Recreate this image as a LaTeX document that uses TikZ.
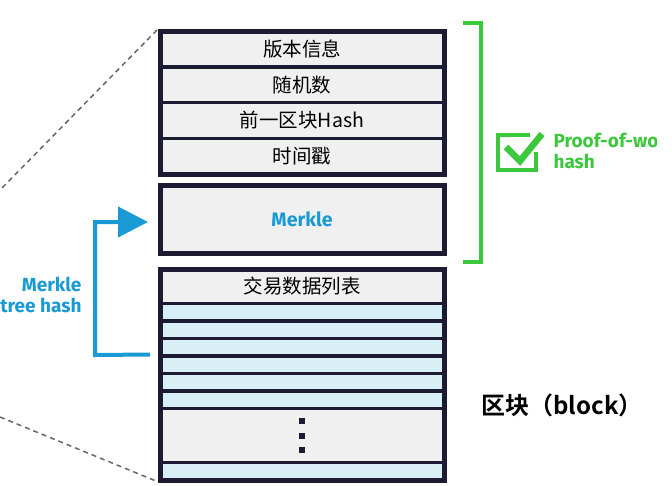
\documentclass[tikz,border=0pt]{standalone}
\usepackage{fontspec}
\setmainfont{Fira Sans}
\newfontfamily\cjk{Noto Sans CJK SC}[BoldFont={Noto Sans CJK SC Bold}]
\usepackage{tikz}
\usetikzlibrary{positioning}
\usetikzlibrary{arrows.meta}

\definecolor{boxline}{HTML}{1C1B33}
\definecolor{fieldgray}{HTML}{F0F0F0}
\definecolor{txblue}{HTML}{D9EFF6}
\definecolor{hashblue}{HTML}{1A9AD4}
\definecolor{powgreen}{HTML}{3CC83C}
\definecolor{zoomgray}{HTML}{666666}

\begin{document}
\begin{tikzpicture}[x=1pt, y=-1pt]
        \tikzset{field/.style={draw=boxline, line width=3.5pt, fill=fieldgray,
            minimum width=284pt, minimum height=35.75pt, inner sep=0pt, outer sep=0pt,
            font=\cjk\fontsize{19.5}{22}\selectfont},
            txrow/.style={field, fill=txblue, minimum height=17.5pt},
            outerbox/.style={draw=boxline, line width=5pt},
            zoomline/.style={draw=zoomgray, line width=1.5pt, dash pattern=on 5pt off 4pt},
            hashline/.style={draw=hashblue, line width=4pt},
            powline/.style={draw=powgreen, line width=4pt}}
        \useasboundingbox (0,0) rectangle (672,485);
        \clip (0,0) rectangle (672,485);

            % block header
            \node[field] (ver) at (302,48.9) {版本信息};
            \node[field, below=0pt of ver] (nonce) {随机数};
            \node[field, below=0pt of nonce] (prev) {前一区块Hash};
            \node[field, below=0pt of prev] (time) {时间戳};
            \draw[outerbox] (ver.north west) rectangle (time.south east);

            \node[field, minimum height=68pt, text=hashblue,
                font=\bfseries\fontsize{19.5}{22}\selectfont] (mrk) at (302,219) {Merkle};
            \draw[outerbox] (mrk.north west) rectangle (mrk.south east);

            % transaction list
            \node[field, minimum height=34.5pt] (tx0) at (302,286.25) {交易数据列表};
            \foreach \i [remember=\i as \j (initially 0)] in {1,...,6}
                \node[txrow, below=0pt of tx\j] (tx\i) {};
            \node[field, minimum height=54pt, below=0pt of tx6] (txdots) {};
            \foreach \dy in {-14.5,0,14.5}
                \fill[boxline] ([yshift=\dy pt]txdots.center) +(-3,-3) rectangle +(3,3);
            \node[txrow, below=0pt of txdots] (txlast) {};
            \draw[outerbox] (tx0.north west) rectangle (txlast.south east);

            % zoom lines
            \coordinate (zoomtop) at (0,190);
            \coordinate (zoombot) at (0,417);
            \draw[zoomline] ([shift={(-3pt,1pt)}]ver.north west) -- (zoomtop);
            \draw[zoomline] (zoombot) -- ([shift={(-4pt,-1pt)}]txlast.south west);

            % merkle tree hash
            \coordinate (hashbend) at (95,355);
            \draw[hashline, -{Triangle[length=30pt,width=30pt]}]
            ([shift={(-10pt,1.5pt)}]tx3.south west) -- (hashbend)
            |- ([shift={(-12pt,-3pt)}]mrk.west);
            \node[anchor=east, align=right, text=hashblue,
                font=\bfseries\fontsize{19}{21}\selectfont] (hashlbl) at (85,295)
                {Merkle\\tree hash};

            % proof-of-work bracket
            \draw[powline] (463,23) -| (481,262) -- (463,262);
            \draw[powline, line width=3.5pt] (530,135) -- (498,135) -- (498,170)
                -- (536,170) -- (536,152);
            \draw[powline, line width=6.5pt, line join=miter]
                (506,147) -- (520,161) -- (542,134);
            \begin{scope}
            \clip (0,0) rectangle (656,485);
            \node[anchor=west, align=left, text=powgreen,
                font=\bfseries\fontsize{19}{21}\selectfont] (powlbl) at (550,151)
                {Proof-of-work\\hash};
            \end{scope}

            \node[anchor=west, font=\cjk\bfseries\fontsize{24}{26}\selectfont]
                (blocklbl) at (478,405) {区块（block）};
\end{tikzpicture}
\end{document}
